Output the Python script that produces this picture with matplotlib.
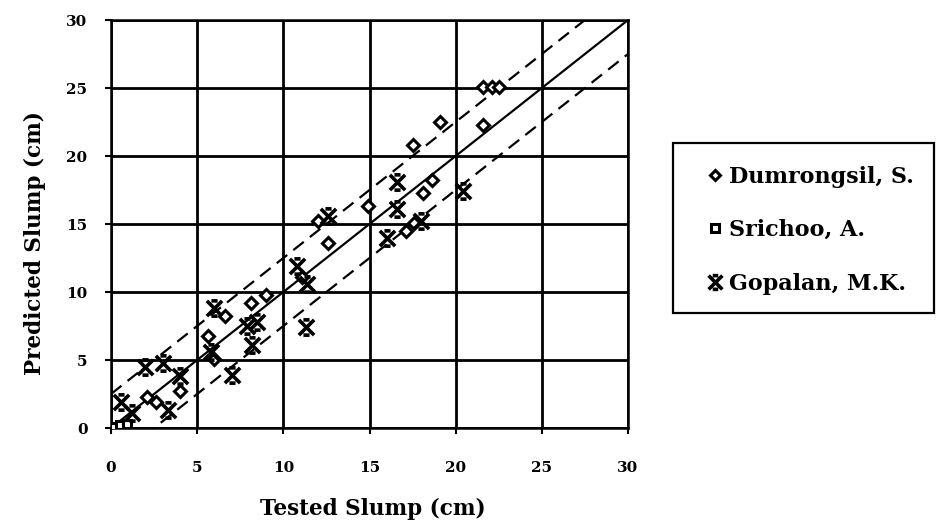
import matplotlib
matplotlib.use("Agg")
import matplotlib.pyplot as plt
from matplotlib.path import Path
from matplotlib.patches import Rectangle
import numpy as np

# Tested vs predicted slump (cm) for three data sources
dum_tested = [21.6, 22.1, 22.5, 19.1, 21.6, 17.5, 18.6, 18.1, 14.9, 12.0, 12.6,
              17.1, 17.6, 11.1, 9.0, 8.1, 6.6, 5.6, 6.0, 4.0, 2.1, 2.6]
dum_pred = [25.1, 25.1, 25.1, 22.5, 22.3, 20.8, 18.2, 17.3, 16.3, 15.2, 13.6,
            14.5, 15.1, 11.1, 9.8, 9.2, 8.2, 6.8, 5.1, 2.7, 2.3, 1.9]

sri_tested = [0.0, 0.2, 0.5, 0.9]
sri_pred = [0.0, 0.1, 0.2, 0.3]

gop_tested = [16.6, 16.6, 20.4, 12.6, 16.0, 18.0, 10.8, 11.4, 11.3, 6.0, 8.5,
              7.9, 8.2, 5.8, 7.0, 2.0, 3.0, 4.0, 0.6, 1.2, 3.3]
gop_pred = [18.1, 16.1, 17.4, 15.6, 14.0, 15.2, 11.9, 10.6, 7.4, 8.8, 7.8,
            7.5, 6.1, 5.6, 3.9, 4.5, 4.8, 3.8, 1.9, 1.1, 1.3]

band = 2.5          # +/- tolerance band (cm)
ticks = [0, 5, 10, 15, 20, 25, 30]

W, H = 936, 521
fig = plt.figure(figsize=(W / 100, H / 100), dpi=100)
ax = fig.add_axes([111 / W, 1 - 428 / H, (628 - 111) / W, (428 - 20) / H])

serif = "DejaVu Serif"

# X marker with short horizontal caps
cap = 0.4
verts = [(-1, -1), (1, 1), (-1, 1), (1, -1),
         (-cap, 1), (cap, 1), (-cap, -1), (cap, -1)]
codes = [Path.MOVETO, Path.LINETO] * 4
xcap = Path(verts, codes)

# reference lines
xs = np.array([0, 30])
ax.plot(xs, xs, color="black", lw=1.6, zorder=2)
ax.plot(xs, xs + band, color="black", lw=1.6, ls=(0, (6, 3.5)), zorder=2)
ax.plot(xs, xs - band, color="black", lw=1.6, ls=(0, (6, 3.5)), zorder=2)

ax.plot(dum_tested, dum_pred, ls="none", marker="D", ms=6, mew=2.2,
        mfc="white", mec="black", zorder=4, label="Dumrongsil, S.")
ax.plot(sri_tested, sri_pred, ls="none", marker="s", ms=6, mew=2.2,
        mfc="white", mec="black", zorder=4, label="Srichoo, A.")
ax.plot(gop_tested, gop_pred, ls="none", marker=xcap, ms=11, mew=2.6,
        color="black", zorder=4, label="Gopalan, M.K.")

ax.set_xlim(0, 30)
ax.set_ylim(0, 30)
ax.set_xticks(ticks)
ax.set_yticks(ticks)
ax.grid(True, color="black", lw=2.0)
ax.set_axisbelow(True)
for s in ax.spines.values():
    s.set_linewidth(1.8)
ax.tick_params(axis="both", direction="out", length=4, width=1.5,
               labelsize=11)
ax.tick_params(axis="y", pad=13)
ax.tick_params(axis="x", pad=20)
for lab in ax.get_xticklabels() + ax.get_yticklabels():
    lab.set_fontfamily(serif)
    lab.set_fontweight("bold")

fig.text(373 / W, 1 - 509 / H, "Tested Slump (cm)", ha="center", va="center",
         fontsize=15.5, fontfamily=serif, fontweight="bold")
fig.text(35 / W, 1 - 243 / H, "Predicted Slump (cm)", ha="center",
         va="center", rotation=90, fontsize=15.5, fontfamily=serif,
         fontweight="bold")

# legend box
fig.patches.append(Rectangle((673 / W, 1 - 313 / H), (934 - 673) / W,
                             (313 - 143) / H, transform=fig.transFigure,
                             fill=False, ec="black", lw=1.6))
h, l = ax.get_legend_handles_labels()
leg = fig.legend(h, l, loc="upper left",
                 bbox_to_anchor=(693 / W, 1 - 150 / H),
                 frameon=False, handlelength=0.6, handletextpad=0.3,
                 labelspacing=1.42, borderpad=0.2, markerscale=0.9,
                 prop={"family": serif, "weight": "bold", "size": 16})

fig.savefig("out.png", dpi=100, facecolor="white")
